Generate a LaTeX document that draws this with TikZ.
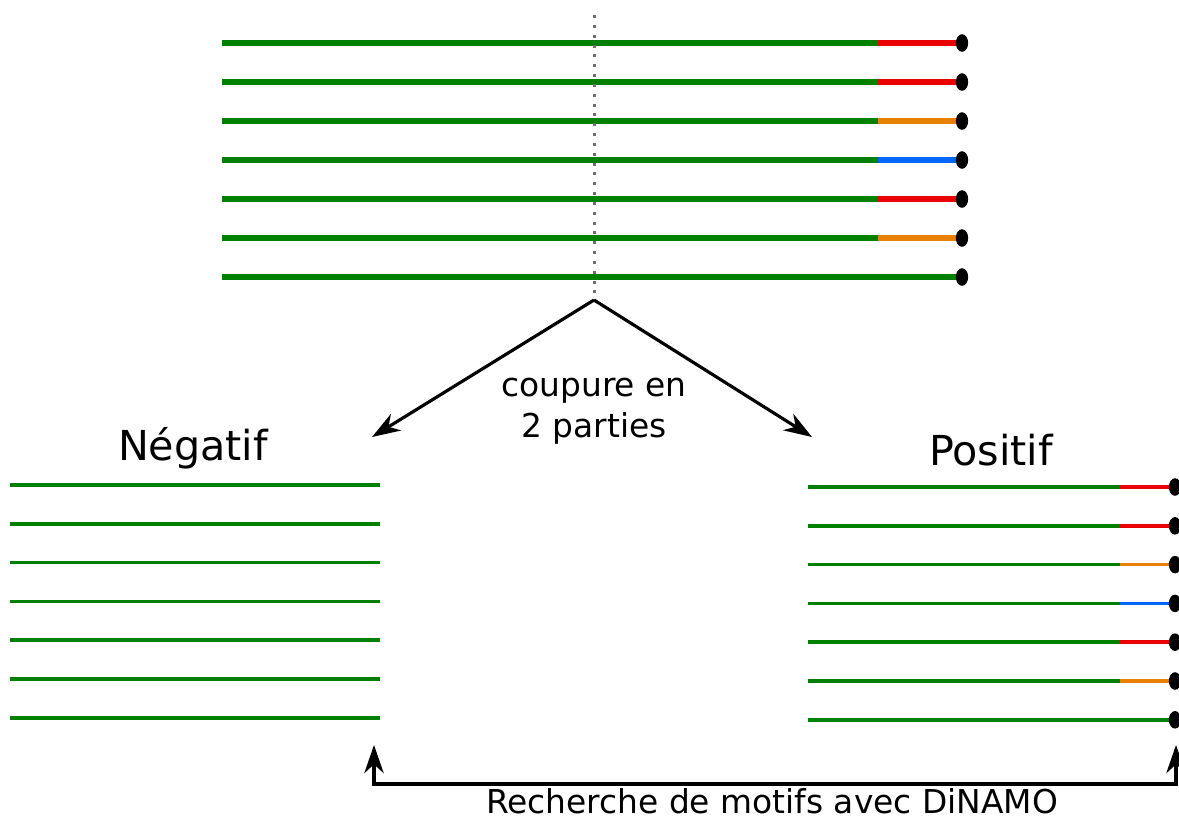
\documentclass[tikz,border=0pt]{standalone}
\usepackage{fontspec}
\setmainfont{DejaVu Sans}
\usetikzlibrary{arrows.meta,shapes.geometric}
\definecolor{lgreen}{RGB}{0,128,0}
\definecolor{lred}{RGB}{235,0,0}
\definecolor{lorange}{RGB}{232,128,0}
\definecolor{lblue}{RGB}{0,100,255}
\definecolor{cutgray}{RGB}{110,110,110}
\tikzset{
  thickline/.style={line width=2.9pt},
  thinline/.style={line width=2.1pt},
  enddot/.style={shape=ellipse, fill=black, inner sep=0pt, minimum width=7pt, minimum height=10pt},
  arr/.style={line width=1.8pt, -{Stealth[length=16pt,width=11pt,inset=5pt]}},
  smalltxt/.style={font=\fontsize{18.7}{23.5}\selectfont, align=center},
  bottomtxt/.style={font=\fontsize{18.7}{23.5}\selectfont},
  bigtxt/.style={font=\fontsize{23.5}{27}\selectfont},
}
\begin{document}
\begin{tikzpicture}[x=0.02cm,y=-0.02cm]
\useasboundingbox (0,0) rectangle (1179,819);
% top lines
\foreach \i/\c in {1/lred,2/lred,3/lorange,4/lblue,5/lred,6/lorange,7/lgreen}{
  \pgfmathsetmacro{\yy}{43+39*(\i-1)}
  \coordinate (t\i s) at (222,\yy);
  \coordinate (t\i m) at (878,\yy);
  \coordinate (t\i e) at (960,\yy);
  \draw[thickline, lgreen] (t\i s) -- (t\i m);
  \draw[thickline, \c] (t\i m) -- (t\i e);
  \node[enddot] (td\i) at (962,\yy) {};
}
% cut line
\coordinate (cutTop) at (594,15);
\coordinate (cut) at (594,300);
\draw[cutgray, line width=1.7pt, dash pattern=on 1.7pt off 3.9pt] (cutTop) -- (cut);
% left lines
\foreach \i in {1,...,7}{
  \pgfmathsetmacro{\yy}{485+38.8*(\i-1)}
  \coordinate (n\i s) at (10,\yy);
  \coordinate (n\i e) at (380,\yy);
  \draw[thinline, lgreen] (n\i s) -- (n\i e);
}
% right lines
\foreach \i/\c in {1/lred,2/lred,3/lorange,4/lblue,5/lred,6/lorange,7/lgreen}{
  \pgfmathsetmacro{\yy}{487+38.8*(\i-1)}
  \coordinate (p\i s) at (808,\yy);
  \coordinate (p\i m) at (1120,\yy);
  \coordinate (p\i e) at (1172,\yy);
  \draw[thinline, lgreen] (p\i s) -- (p\i m);
  \draw[thinline, \c] (p\i m) -- (p\i e);
  \node[enddot] (pd\i) at (1175,\yy) {};
}
% split arrows
\coordinate (negIn) at (372,437);
\coordinate (posIn) at (812,437);
\draw[arr] (cut) -- (negIn);
\draw[arr] (cut) -- (posIn);
\node[smalltxt] (cutlabel) at (594,411) {coupure en\\2 parties};
\node[bigtxt] (neglabel) at (193,448) {Négatif};
\node[bigtxt] (poslabel) at (991,450) {Positif};
% bottom connector
\coordinate (negTip) at (374,745);
\coordinate (negFoot) at (374,784);
\coordinate (posFoot) at (1176,784);
\coordinate (posTip) at (1176,745);
\draw[line width=1.8pt, {Stealth[length=16pt,width=11pt,inset=5pt]}-{Stealth[length=16pt,width=11pt,inset=5pt]}] (negTip) -- (negFoot) -- (posFoot) -- (posTip);
\node[bottomtxt, anchor=base, inner sep=0pt] (dinamo) at (772,813) {Recherche de motifs avec DiNAMO};
\end{tikzpicture}
\end{document}
